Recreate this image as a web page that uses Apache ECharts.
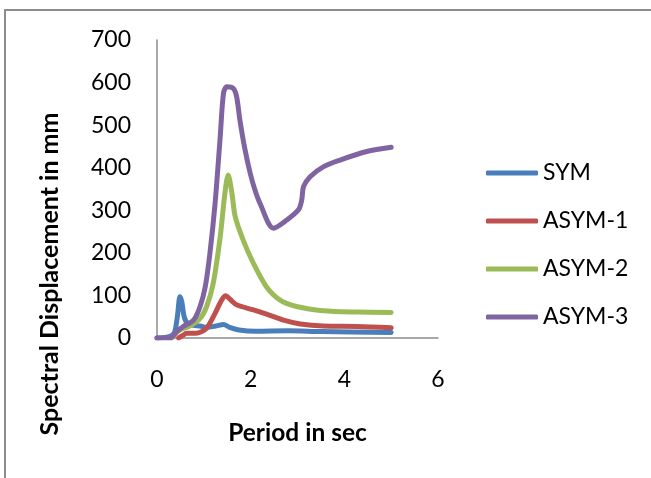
<!DOCTYPE html>
<html>
<head>
<meta charset="utf-8">
<script src="https://cdn.jsdelivr.net/npm/echarts@6/dist/echarts.min.js"></script>
<style>
  html, body { margin: 0; padding: 0; background: #fff; }
  #chart { width: 651px; height: 478px; }
</style>
</head>
<body>
<div id="chart"></div>
<script>
// Spectral displacement (mm) against period (s) for four building configurations
const seriesNames = ['SYM', 'ASYM-1', 'ASYM-2', 'ASYM-3'];
const seriesColors = ['#4A7EBB', '#C0504D', '#9BBB59', '#8064A2'];

const symPeriod = [0, 0.2, 0.3, 0.38, 0.44, 0.49, 0.53, 0.58, 0.66, 0.78, 0.92, 1.06, 1.25, 1.42, 1.55, 1.75, 2.1, 2.8, 3.5, 5.0];
const symDisp   = [0, 2, 5, 15, 55, 97, 85, 50, 33, 30, 28, 25, 28, 32, 25, 19, 16, 17, 15, 13];

const asym1Period = [0.46, 0.55, 0.63, 0.75, 0.88, 1.06, 1.24, 1.38, 1.47, 1.56, 1.7, 2.06, 2.34, 2.7, 3.06, 3.55, 4.27, 5.0];
const asym1Disp   = [0, 6, 11, 11, 12, 23, 58, 89, 99, 91, 78, 66, 56, 42, 33, 28, 27, 24];

const asym2Period = [0.31, 0.49, 0.7, 0.92, 1.06, 1.2, 1.35, 1.45, 1.52, 1.6, 1.67, 1.84, 2.06, 2.34, 2.63, 2.98, 3.55, 4.27, 5.0];
const asym2Disp   = [0, 19, 28, 46, 74, 128, 238, 340, 383, 340, 285, 230, 175, 120, 89, 74, 64, 61, 60];

const asym3Period = [0, 0.28, 0.42, 0.56, 0.78, 0.92, 1.03, 1.13, 1.24, 1.35, 1.42, 1.49, 1.63, 1.7, 1.77, 1.88, 1.99, 2.09, 2.2, 2.49, 2.77, 3.02, 3.09, 3.13, 3.27, 3.55, 3.91, 4.48, 5.0];
const asym3Disp   = [0, 0, 15, 27, 42, 74, 120, 199, 316, 473, 575, 590, 586, 567, 512, 442, 387, 348, 316, 258, 277, 301, 324, 356, 379, 402, 418, 438, 448];

const periodTicks = { min: 0, max: 6, step: 2 };
const dispTicks = { min: 0, max: 700, step: 100 };

const periods = [symPeriod, asym1Period, asym2Period, asym3Period];
const displacements = [symDisp, asym1Disp, asym2Disp, asym3Disp];

const FONT = 'Lato, "Open Sans", sans-serif';

const chart = echarts.init(document.getElementById('chart'), null, { renderer: 'canvas' });

chart.setOption({
  backgroundColor: '#ffffff',
  animation: false,
  textStyle: { fontFamily: FONT },
  graphic: [{
    type: 'rect',
    shape: { x: 5, y: 10, width: 700, height: 520 },
    style: { fill: 'none', stroke: '#8c8c8c', lineWidth: 2 },
    silent: true
  }],
  grid: { left: 157, top: 40, right: 213, bottom: 140, containLabel: false },
  legend: {
    orient: 'vertical',
    left: 486,
    top: 161,
    padding: 0,
    icon: 'roundRect',
    itemWidth: 52,
    itemHeight: 5,
    itemGap: 24,
    textStyle: { fontFamily: FONT, fontSize: 23, color: '#000', lineHeight: 24 },
    data: seriesNames
  },
  xAxis: {
    type: 'value',
    min: periodTicks.min,
    max: periodTicks.max,
    interval: periodTicks.step,
    name: 'Period in sec',
    nameLocation: 'middle',
    nameGap: 83,
    nameTextStyle: { fontFamily: FONT, fontSize: 24.5, fontWeight: 'bold', color: '#000' },
    axisLine: { show: true, lineStyle: { color: '#8c8c8c', width: 1.5 } },
    axisTick: { show: false },
    splitLine: { show: false },
    axisLabel: { fontFamily: FONT, fontSize: 23, color: '#000', margin: 30 }
  },
  yAxis: {
    type: 'value',
    min: dispTicks.min,
    max: dispTicks.max,
    interval: dispTicks.step,
    name: 'Spectral Displacement in mm',
    nameLocation: 'middle',
    nameRotate: 90,
    nameGap: 95,
    nameTextStyle: {
      fontFamily: FONT, fontSize: 25, fontWeight: 'bold', color: '#000',
      // the title sits lower than the axis midpoint
      padding: [0, 170, 0, 0]
    },
    axisLine: { show: true, lineStyle: { color: '#8c8c8c', width: 1.5 } },
    axisTick: { show: false },
    splitLine: { show: false },
    axisLabel: { fontFamily: FONT, fontSize: 23, color: '#000', margin: 26 }
  },
  series: seriesNames.map((name, i) => ({
    name: name,
    type: 'line',
    data: periods[i].map((p, k) => [p, displacements[i][k]]),
    smooth: 0.3,
    showSymbol: false,
    lineStyle: { color: seriesColors[i], width: 5, cap: 'round', join: 'round' },
    itemStyle: { color: seriesColors[i] }
  }))
});
</script>
</body>
</html>
